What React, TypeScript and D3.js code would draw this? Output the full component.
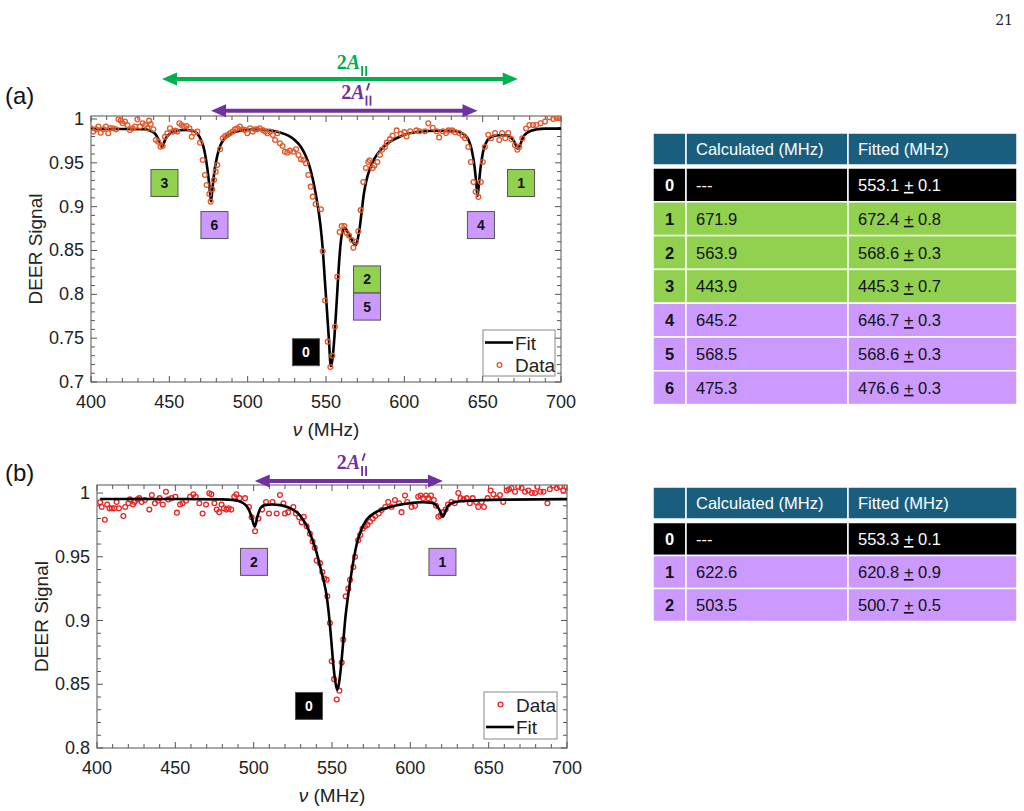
import React, { useRef, useEffect } from 'react';
import * as d3 from 'd3';

// ---- (a) trace: [frequency (MHz), DEER signal] ----
const dataA: [number, number][] = [
  [400.0, 0.9894], [401.5, 0.9856], [403.2, 0.9882], [404.7, 0.9913], [406.2, 0.9844], [407.9, 0.9882],
  [409.5, 0.9913], [411.0, 0.9837], [412.5, 0.9894], [414.2, 0.9894], [416.0, 0.9882], [417.5, 0.9996],
  [419.0, 0.9981], [420.2, 0.9951], [421.7, 0.997], [423.2, 0.9932], [424.8, 0.9875], [426.6, 0.9894],
  [428.1, 0.9913], [429.6, 0.9996], [431.3, 0.9913], [433.0, 0.9951], [434.5, 0.9932], [436.0, 0.9894],
  [437.1, 0.9981], [438.1, 0.9943], [439.8, 0.9882], [441.4, 0.976], [442.9, 0.9741], [444.4, 0.9684],
  [445.7, 0.9692], [447.2, 0.9798], [448.7, 0.9837], [450.4, 0.9894], [452.2, 0.9856], [453.7, 0.9867],
  [455.1, 0.9856], [456.4, 0.9951], [457.8, 0.9932], [459.3, 0.9913], [461.0, 0.992], [462.8, 0.9894],
  [464.3, 0.9798], [465.8, 0.9844], [467.9, 0.9856], [469.6, 0.973], [471.3, 0.9532], [472.7, 0.9361],
  [473.8, 0.9247], [475.5, 0.9144], [476.4, 0.9057], [477.4, 0.9198], [478.5, 0.9304], [479.6, 0.9399],
  [480.6, 0.9475], [482.4, 0.9654], [484.1, 0.9779], [485.6, 0.9806], [487.1, 0.9817], [488.7, 0.9837],
  [490.4, 0.9856], [491.9, 0.9882], [493.4, 0.9894], [495.1, 0.9913], [496.8, 0.9882], [498.3, 0.9875],
  [499.8, 0.9837], [501.5, 0.9894], [503.2, 0.9856], [504.6, 0.9882], [506.1, 0.9882], [507.8, 0.9894],
  [509.6, 0.9875], [511.1, 0.9856], [512.6, 0.9837], [514.3, 0.9856], [516.0, 0.9817], [517.5, 0.976],
  [519.0, 0.9837], [520.6, 0.9722], [522.3, 0.9692], [523.8, 0.9627], [525.3, 0.9616], [527.0, 0.9639],
  [529.2, 0.9627], [530.9, 0.9654], [532.4, 0.9589], [533.9, 0.954], [535.6, 0.9532], [537.2, 0.9494],
  [538.7, 0.9361], [540.2, 0.9228], [541.5, 0.9114], [543.4, 0.903], [546.8, 0.897], [547.9, 0.849],
  [549.4, 0.793], [551.1, 0.746], [552.8, 0.717], [554.0, 0.73], [555.7, 0.763], [557.2, 0.82],
  [558.7, 0.871], [560.0, 0.878], [561.7, 0.878], [563.2, 0.87], [564.7, 0.867], [566.4, 0.862],
  [567.5, 0.853], [569.1, 0.86], [570.6, 0.872], [572.1, 0.896], [573.8, 0.928], [575.5, 0.944],
  [577.0, 0.951], [577.9, 0.953], [579.8, 0.944], [580.9, 0.947], [582.8, 0.951], [584.4, 0.959],
  [585.8, 0.965], [587.6, 0.968], [588.8, 0.973], [590.8, 0.977], [592.5, 0.981], [595.1, 0.987],
  [597.8, 0.983], [600.0, 0.985], [601.4, 0.98], [603.7, 0.986], [607.7, 0.987], [609.7, 0.986],
  [613.2, 0.986], [615.3, 0.995], [618.1, 0.99], [620.6, 0.986], [622.2, 0.979], [624.6, 0.986],
  [626.6, 0.984], [628.2, 0.987], [630.6, 0.987], [632.5, 0.985], [635.0, 0.984], [637.2, 0.981],
  [638.7, 0.978], [640.8, 0.968], [642.5, 0.951], [644.1, 0.928], [645.5, 0.917], [647.3, 0.911],
  [648.8, 0.928], [650.1, 0.951], [651.4, 0.968], [653.6, 0.982], [655.4, 0.978], [657.9, 0.984],
  [660.6, 0.976], [662.4, 0.984], [664.4, 0.978], [666.3, 0.984], [668.3, 0.977], [670.6, 0.97],
  [672.1, 0.965], [673.3, 0.968], [675.3, 0.978], [677.7, 0.989], [679.8, 0.993], [682.2, 0.993],
  [684.2, 0.993], [687.0, 0.995], [689.8, 0.997], [692.6, 1.002], [695.1, 1.0], [697.2, 1.001],
  [699.0, 1.001],
];

const fitA: [number, number][] = [
  [400, 0.9886], [425, 0.9886], [434, 0.9882], [438, 0.9865], [441, 0.983], [443, 0.977], [444.5, 0.971],
  [445.3, 0.968], [446.2, 0.971], [447.5, 0.977], [449.5, 0.982], [453, 0.986], [460, 0.9875], [465, 0.9865],
  [468, 0.983], [470.5, 0.975], [472.5, 0.963], [474.3, 0.943], [475.6, 0.923], [476.6, 0.906], [477.6, 0.922],
  [478.9, 0.942], [480.6, 0.958], [482.6, 0.97], [485, 0.977], [490, 0.984], [497, 0.987], [505, 0.988],
  [513, 0.9875], [520, 0.985], [526, 0.981], [530, 0.976], [534, 0.968], [537, 0.958], [539.5, 0.946],
  [541.5, 0.932], [543.3, 0.916], [545, 0.898], [546.5, 0.878], [548, 0.85], [549.3, 0.815], [550.6, 0.782],
  [551.8, 0.75], [553.1, 0.718], [554.2, 0.727], [555.4, 0.752], [556.6, 0.785], [557.7, 0.818], [558.7, 0.845],
  [559.8, 0.865], [561, 0.874], [562, 0.876], [563.5, 0.872], [565, 0.867], [566.5, 0.862], [567.8, 0.858],
  [568.6, 0.856], [569.5, 0.858], [570.5, 0.865], [571.6, 0.877], [572.8, 0.895], [574.2, 0.915], [575.8, 0.93],
  [578, 0.943], [581, 0.955], [585, 0.965], [590, 0.973], [595, 0.978], [600, 0.982], [610, 0.9855],
  [620, 0.9865], [630, 0.9865], [635, 0.985], [638.5, 0.982], [641, 0.976], [643, 0.965], [644.8, 0.946],
  [645.9, 0.927], [646.7, 0.912], [647.6, 0.926], [648.7, 0.945], [650.2, 0.962], [652.2, 0.973], [655, 0.979],
  [660, 0.9815], [665, 0.9815], [668, 0.979], [670.5, 0.973], [672.4, 0.966], [673.8, 0.97], [675.8, 0.979],
  [679, 0.985], [684, 0.988], [690, 0.989], [700, 0.989],
];

// ---- (b) trace ----
const dataB: [number, number][] = [
  [402.0, 0.9927], [403.0, 0.989], [405.0, 0.979], [406.5, 0.991], [408.0, 0.988], [409.5, 0.988],
  [411.0, 0.988], [412.5, 0.993], [414.0, 0.988], [416.8, 0.982], [418.0, 0.989], [420.0, 0.992],
  [421.0, 0.995], [423.0, 0.991], [424.0, 0.993], [426.0, 0.995], [427.0, 0.996], [428.5, 0.993],
  [430.6, 0.9945], [433.4, 0.987], [435.0, 0.9985], [437.0, 0.992], [439.0, 0.994], [440.0, 0.996],
  [442.0, 0.991], [444.0, 1.001], [445.5, 0.995], [447.5, 0.996], [450.0, 0.997], [451.0, 0.9846],
  [453.0, 0.991], [454.6, 0.992], [456.8, 0.994], [459.4, 0.997], [461.5, 0.999], [463.0, 0.997],
  [465.3, 0.992], [467.4, 0.984], [469.6, 0.991], [471.7, 0.9998], [473.0, 0.999], [474.9, 0.992],
  [476.4, 0.987], [478.0, 0.985], [479.5, 0.991], [481.0, 0.988], [482.6, 0.987], [484.0, 0.988],
  [485.7, 0.987], [487.6, 0.997], [489.0, 0.999], [491.0, 0.996], [494.5, 0.996], [497.0, 0.989],
  [498.7, 0.981], [500.9, 0.97], [503.0, 0.98], [505.4, 0.987], [507.9, 0.993], [509.8, 0.984],
  [512.0, 0.993], [514.7, 0.984], [516.8, 0.9985], [519.0, 0.992], [520.0, 0.984], [522.0, 0.985],
  [525.3, 0.989], [527.0, 0.984], [529.0, 0.981], [530.6, 0.977], [532.0, 0.9814], [533.8, 0.974],
  [535.9, 0.968], [537.6, 0.962], [539.0, 0.957], [540.2, 0.947], [542.3, 0.945], [543.8, 0.938],
  [545.1, 0.933], [546.6, 0.932], [547.0, 0.919], [548.7, 0.898], [549.8, 0.868], [551.3, 0.854],
  [553.0, 0.838], [554.7, 0.845], [556.2, 0.867], [557.2, 0.885], [558.7, 0.919], [560.4, 0.925],
  [561.5, 0.932], [563.6, 0.942], [564.7, 0.95], [566.7, 0.963], [568.0, 0.967], [569.5, 0.972],
  [571.0, 0.974], [572.6, 0.975], [574.2, 0.9775], [576.0, 0.98], [577.6, 0.982], [579.8, 0.984],
  [581.7, 0.9866], [584.0, 0.989], [585.9, 0.993], [588.0, 0.989], [590.2, 0.9945], [592.8, 0.992],
  [594.4, 0.985], [596.6, 0.998], [598.0, 0.993], [600.8, 0.989], [603.0, 0.99], [605.0, 0.997],
  [606.5, 0.998], [608.2, 0.996], [610.0, 0.998], [611.5, 0.996], [613.2, 0.998], [615.0, 0.9945],
  [616.4, 0.99], [617.9, 0.9814], [619.3, 0.9825], [621.0, 0.985], [622.5, 0.987], [624.0, 0.991],
  [626.3, 0.993], [628.3, 0.992], [630.6, 1.0], [632.0, 0.996], [634.0, 0.995], [636.0, 0.996],
  [638.0, 0.992], [639.8, 0.996], [642.0, 0.993], [643.3, 0.989], [645.5, 0.993], [647.0, 0.989],
  [649.3, 0.996], [651.2, 1.002], [653.0, 0.999], [655.0, 0.996], [657.2, 0.9985], [659.3, 0.993],
  [661.5, 1.002], [663.0, 1.003], [664.6, 1.004], [666.8, 1.001], [668.9, 1.005], [671.0, 1.004],
  [673.2, 1.001], [675.3, 1.002], [677.5, 1.0], [679.6, 1.0], [681.0, 1.005], [683.0, 1.001],
  [685.0, 1.001], [687.5, 0.992], [689.0, 1.003], [691.3, 1.006], [693.5, 1.004], [695.5, 1.005],
  [697.6, 1.002], [699.7, 1.005],
];

const fitB: [number, number][] = [
  [402, 0.9953], [440, 0.9953], [480, 0.995], [487, 0.9945], [491, 0.9935], [494, 0.9915], [496.5, 0.988],
  [498.5, 0.982], [500.7, 0.9736], [502.5, 0.982], [504.5, 0.9885], [507, 0.9905], [512, 0.991], [517, 0.9905],
  [521, 0.9893], [525, 0.987], [528, 0.9845], [531, 0.98], [534, 0.974], [537, 0.965], [540, 0.954],
  [542.5, 0.942], [544.5, 0.932], [546.5, 0.92], [548, 0.905], [549.5, 0.885], [550.8, 0.866], [552, 0.853],
  [553.3, 0.8455], [554.5, 0.851], [555.5, 0.861], [556.5, 0.874], [557.5, 0.888], [558.7, 0.904], [560, 0.917],
  [562, 0.934], [564, 0.949], [566, 0.961], [568, 0.969], [572, 0.979], [578, 0.985], [587, 0.989],
  [598, 0.9918], [608, 0.9928], [613, 0.9925], [616, 0.991], [618.5, 0.987], [620.8, 0.9814], [622.5, 0.986],
  [624.5, 0.9905], [628, 0.9928], [635, 0.9938], [660, 0.9948], [700, 0.9952],
];

// peak labels: text, anchor [MHz, signal], group
const peaksA = [
  { label: '3', at: [446.9, 0.927], kind: 'green' },
  { label: '6', at: [478.8, 0.879], kind: 'purple' },
  { label: '1', at: [674.5, 0.927], kind: 'green' },
  { label: '4', at: [648.9, 0.879], kind: 'purple' },
  { label: '2', at: [576.2, 0.817], kind: 'green' },
  { label: '5', at: [576.2, 0.786], kind: 'purple' },
  { label: '0', at: [537.2, 0.734], kind: 'center' },
];
const peaksB = [
  { label: '2', at: [500.2, 0.946], kind: 'purple' },
  { label: '1', at: [620.5, 0.946], kind: 'purple' },
  { label: '0', at: [535.3, 0.833], kind: 'center' },
];

// hyperfine splittings drawn above the plots: [from, to] in MHz, height in signal units
const splitsA = [
  { from: 445.3, to: 672.4, level: 1.0456, kind: 'green', prime: false, shift: 9 },
  { from: 476.6, to: 646.7, level: 1.0095, kind: 'purple', prime: true, shift: 9 },
];
const splitsB = [
  { from: 500.7, to: 620.8, level: 1.0094, kind: 'purple', prime: true, shift: 0 },
];

// tables
const tableHeader = ['', 'Calculated (MHz)', 'Fitted (MHz)'];
const tableA = [
  { id: '0', calc: '---', fit: '553.1', err: '0.1', kind: 'center' },
  { id: '1', calc: '671.9', fit: '672.4', err: '0.8', kind: 'green' },
  { id: '2', calc: '563.9', fit: '568.6', err: '0.3', kind: 'green' },
  { id: '3', calc: '443.9', fit: '445.3', err: '0.7', kind: 'green' },
  { id: '4', calc: '645.2', fit: '646.7', err: '0.3', kind: 'purple' },
  { id: '5', calc: '568.5', fit: '568.6', err: '0.3', kind: 'purple' },
  { id: '6', calc: '475.3', fit: '476.6', err: '0.3', kind: 'purple' },
];
const tableB = [
  { id: '0', calc: '---', fit: '553.3', err: '0.1', kind: 'center' },
  { id: '1', calc: '622.6', fit: '620.8', err: '0.9', kind: 'purple' },
  { id: '2', calc: '503.5', fit: '500.7', err: '0.5', kind: 'purple' },
];

const xTicks = [400, 450, 500, 550, 600, 650, 700];
const yTicksA = [0.7, 0.75, 0.8, 0.85, 0.9, 0.95, 1];
const yTicksB = [0.8, 0.85, 0.9, 0.95, 1];

const SANS = "'Liberation Sans', Arial, sans-serif";
const AXIS = '#555';
const boxFill: Record<string, string> = { green: '#92d050', purple: '#cc99ff', center: '#000' };
const arrowColor: Record<string, string> = { green: '#00b050', purple: '#7030a0' };

const panelA = {
  id: 'a', tag: '(a)', tagY: 104,
  left: 91, right: 561, top: 116, bottom: 382, yDomain: [0.7, 1.0034], yTicks: yTicksA,
  data: dataA, fit: fitA, dataColor: '#e2582a', fitFirst: true,
  legend: { x: 483, y: 330, w: 72, h: 46 },
  peaks: peaksA, splits: splitsA,
};
const panelB = {
  id: 'b', tag: '(b)', tagY: 481,
  left: 97, right: 567, top: 485, bottom: 748, yDomain: [0.8, 1.0063], yTicks: yTicksB,
  data: dataB, fit: fitB, dataColor: '#ec2424', fitFirst: false,
  legend: { x: 484, y: 692, w: 73, h: 47 },
  peaks: peaksB, splits: splitsB,
};

function drawPanel(svg: any, p: any) {
  const x = d3.scaleLinear().domain([400, 700]).range([p.left, p.right]);
  const y = d3.scaleLinear().domain(p.yDomain).range([p.bottom, p.top]);
  const g = svg.append('g');

  g.append('text').attr('x', 5).attr('y', p.tagY).attr('font-family', SANS).attr('font-size', 24)
    .attr('fill', '#111').text(p.tag);

  // inward ticks on all four sides
  const t = g.append('g').attr('stroke', AXIS).attr('stroke-width', 1);
  d3.range(400, 701, 10).forEach((v) => {
    const len = v % 50 === 0 ? 6 : 4;
    const px = x(v);
    t.append('line').attr('x1', px).attr('x2', px).attr('y1', p.bottom).attr('y2', p.bottom - len);
    t.append('line').attr('x1', px).attr('x2', px).attr('y1', p.top).attr('y2', p.top + len);
  });
  d3.range(Math.round(p.yDomain[0] * 100), 101).forEach((k) => {
    const len = k % 5 === 0 ? 6 : 4;
    const py = y(k / 100);
    t.append('line').attr('x1', p.left).attr('x2', p.left + len).attr('y1', py).attr('y2', py);
    t.append('line').attr('x1', p.right).attr('x2', p.right - len).attr('y1', py).attr('y2', py);
  });
  g.append('rect').attr('x', p.left).attr('y', p.top).attr('width', p.right - p.left)
    .attr('height', p.bottom - p.top).attr('fill', 'none').attr('stroke', AXIS).attr('stroke-width', 1);

  // tick labels
  const labels = g.append('g').attr('font-family', SANS).attr('font-size', 18).attr('fill', '#222');
  xTicks.forEach((v) => {
    labels.append('text').attr('x', x(v)).attr('y', p.bottom + 26).attr('text-anchor', 'middle').text(v);
  });
  p.yTicks.forEach((v: number) => {
    labels.append('text').attr('x', p.left - 7).attr('y', y(v) + 6).attr('text-anchor', 'end')
      .text(String(+v.toFixed(2)));
  });

  // axis titles
  const xl = g.append('text').attr('x', (p.left + p.right) / 2).attr('y', p.bottom + 54)
    .attr('text-anchor', 'middle').attr('font-family', SANS).attr('font-size', 19).attr('fill', '#222');
  xl.append('tspan').attr('font-style', 'italic').text('ν');
  xl.append('tspan').text(' (MHz)');
  g.append('text').attr('transform', `translate(${p.left - 49},${(p.top + p.bottom) / 2}) rotate(-90)`)
    .attr('text-anchor', 'middle').attr('font-family', SANS).attr('font-size', 19).attr('fill', '#222')
    .text('DEER Signal');

  // traces
  const clipId = `clip-${p.id}`;
  g.append('clipPath').attr('id', clipId).append('rect')
    .attr('x', p.left).attr('y', p.top).attr('width', p.right - p.left).attr('height', p.bottom - p.top);
  const plot = g.append('g').attr('clip-path', `url(#${clipId})`);
  const line = d3.line<[number, number]>().x((d) => x(d[0])).y((d) => y(d[1])).curve(d3.curveMonotoneX);
  const drawFit = () => plot.append('path').datum(p.fit).attr('d', line).attr('fill', 'none')
    .attr('stroke', '#000').attr('stroke-width', 2.6).attr('stroke-linejoin', 'round');
  const drawData = () => plot.append('g').selectAll('circle').data(p.data).join('circle')
    .attr('cx', (d: [number, number]) => x(d[0])).attr('cy', (d: [number, number]) => y(d[1]))
    .attr('r', 2.4).attr('fill', 'none').attr('stroke', p.dataColor).attr('stroke-width', 1.3);
  if (p.fitFirst) { drawFit(); drawData(); } else { drawData(); drawFit(); }

  // legend
  const L = p.legend;
  const lg = g.append('g').attr('font-family', SANS).attr('font-size', 19).attr('fill', '#222');
  lg.append('rect').attr('x', L.x).attr('y', L.y).attr('width', L.w).attr('height', L.h)
    .attr('fill', '#fff').attr('stroke', '#888').attr('stroke-width', 1);
  const items = p.fitFirst ? ['Fit', 'Data'] : ['Data', 'Fit'];
  items.forEach((name, i) => {
    const cy = L.y + 12.5 + i * 22.5;
    if (name === 'Fit') {
      lg.append('line').attr('x1', L.x + 2).attr('x2', L.x + 30).attr('y1', cy).attr('y2', cy)
        .attr('stroke', '#000').attr('stroke-width', 2.6);
    } else {
      lg.append('circle').attr('cx', L.x + 16.5).attr('cy', cy).attr('r', 2.4).attr('fill', 'none')
        .attr('stroke', p.dataColor).attr('stroke-width', 1.3);
    }
    lg.append('text').attr('x', L.x + 32).attr('y', cy + 7).text(name);
  });

  // peak label boxes
  p.peaks.forEach((pk: any) => {
    const cx = x(pk.at[0]);
    const cy = y(pk.at[1]);
    g.append('rect').attr('x', cx - 13.5).attr('y', cy - 13.5).attr('width', 27).attr('height', 27)
      .attr('fill', boxFill[pk.kind]).attr('stroke', '#555').attr('stroke-width', 1);
    g.append('text').attr('x', cx).attr('y', cy + 5).attr('text-anchor', 'middle')
      .attr('font-family', SANS).attr('font-weight', 'bold').attr('font-size', 14)
      .attr('fill', pk.kind === 'center' ? '#fff' : '#111').text(pk.label);
  });

  // double-headed arrows with 2A|| labels
  p.splits.forEach((s: any) => {
    const x1 = x(s.from);
    const x2 = x(s.to);
    const yy = y(s.level);
    const col = arrowColor[s.kind];
    const head = 15;
    const half = 6.5;
    g.append('line').attr('x1', x1 + head - 2).attr('x2', x2 - head + 2).attr('y1', yy).attr('y2', yy)
      .attr('stroke', col).attr('stroke-width', 4);
    g.append('path').attr('d', `M${x1},${yy}L${x1 + head},${yy - half}L${x1 + head},${yy + half}Z`).attr('fill', col);
    g.append('path').attr('d', `M${x2},${yy}L${x2 - head},${yy - half}L${x2 - head},${yy + half}Z`).attr('fill', col);

    // "2A" as text, the prime and the parallel-bar subscript as small strokes
    const tx = (x1 + x2) / 2 + s.shift - 12;
    const base = yy - (s.prime ? 12 : 10);
    const lbl = g.append('text').attr('x', tx).attr('y', base)
      .attr('font-family', "'Liberation Serif', serif").attr('font-weight', 'bold').attr('font-size', 20)
      .attr('fill', col);
    lbl.append('tspan').text('2');
    lbl.append('tspan').attr('font-style', 'italic').text('A');
    const w = (lbl.node() as SVGTextElement).getComputedTextLength();
    const sx = tx + w + 1;
    if (s.prime) {
      g.append('path').attr('d', `M${sx + 3.5},${base - 15}L${sx + 1.5},${base - 9}`)
        .attr('stroke', col).attr('stroke-width', 1.8).attr('stroke-linecap', 'round');
    }
    [0, 4].forEach((dx) => {
      g.append('rect').attr('x', sx + dx).attr('y', base - 3).attr('width', 1.8).attr('height', 10)
        .attr('fill', col);
    });
  });
}

function drawTable(svg: any, rows: any[], top: number, headH: number, rowTop: number, rowH: number) {
  const cols = [653, 686, 848, 1017];
  const g = svg.append('g').attr('font-family', SANS).attr('font-size', 16.5);
  const cell = (x0: number, x1: number, y0: number, h: number, fill: string) =>
    g.append('rect').attr('x', x0).attr('y', y0).attr('width', x1 - x0).attr('height', h)
      .attr('fill', fill).attr('stroke', '#fff').attr('stroke-width', 1.5);

  for (let c = 0; c < 3; c++) cell(cols[c], cols[c + 1], top, headH, '#1a5e7e');
  tableHeader.forEach((h, c) => {
    if (!h) return;
    g.append('text').attr('x', cols[c] + 10).attr('y', top + headH / 2 + 6).attr('fill', '#fff').text(h);
  });

  rows.forEach((r, i) => {
    const y0 = rowTop + i * rowH;
    const fill = boxFill[r.kind];
    for (let c = 0; c < 3; c++) cell(cols[c], cols[c + 1], y0, rowH, fill);
    const ink = r.kind === 'center' ? '#fff' : '#111';
    const by = y0 + rowH / 2 + 6;
    g.append('text').attr('x', (cols[0] + cols[1]) / 2).attr('y', by).attr('text-anchor', 'middle')
      .attr('font-weight', 'bold').attr('fill', ink).text(r.id);
    g.append('text').attr('x', cols[1] + 10).attr('y', by).attr('fill', ink).text(r.calc);
    const ft = g.append('text').attr('x', cols[2] + 10).attr('y', by).attr('fill', ink);
    ft.append('tspan').text(`${r.fit} `);
    ft.append('tspan').attr('text-decoration', 'underline').text('+');
    ft.append('tspan').text(` ${r.err}`);
  });
}

const App = () => {
  const svgRef = useRef<SVGSVGElement>(null);

  useEffect(() => {
    const svg = d3.select(svgRef.current);
    svg.selectAll('*').remove();

    svg.append('text').attr('x', 1013).attr('y', 25).attr('text-anchor', 'end')
      .attr('font-family', "'DejaVu Serif', serif").attr('font-size', 14).attr('fill', '#222').text('21');

    drawPanel(svg, panelA);
    drawPanel(svg, panelB);
    drawTable(svg, tableA, 133, 32, 168, 33.8);
    drawTable(svg, tableB, 487, 32, 522.5, 33);
  }, []);

  return (
    <svg ref={svgRef} width={1024} height={811}
      style={{ position: 'absolute', left: 0, top: 0, background: '#fff' }} />
  );
};

export default App;
